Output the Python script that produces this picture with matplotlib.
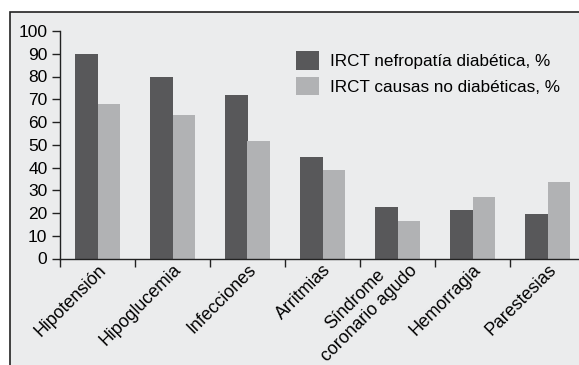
import matplotlib
matplotlib.use("Agg")
import matplotlib.pyplot as plt
import matplotlib.transforms as mtransforms
import numpy as np
from matplotlib.patches import Rectangle

categories = ["Hipotensión", "Hipoglucemia", "Infecciones", "Arritmias",
              "Síndrome\ncoronario agudo", "Hemorragia", "Parestesias"]
diabetic = [90, 80, 72, 44.5, 22.5, 21.5, 19.5]
non_diabetic = [68, 63, 51.5, 39, 16.5, 27, 33.5]
series_names = ["IRCT nefropatía diabética, %", "IRCT causas no diabéticas, %"]

dark = "#58585a"
light = "#b1b2b4"
bg = "#ebeced"

plt.rcParams["font.family"] = ["Liberation Sans", "DejaVu Sans"]

fig = plt.figure(figsize=(5.79, 3.65), dpi=100)
fig.patch.set_facecolor("white")

# outer panel frame
frame = Rectangle((10 / 579, -0.1), 1.1, (365 - 12) / 365 + 0.1,
                  transform=fig.transFigure, facecolor=bg, edgecolor="#222222",
                  linewidth=1.2, zorder=-10)
fig.patches.append(frame)

ax = fig.add_axes([60 / 579, (365 - 258.5) / 365, 525 / 579, (258.5 - 31) / 365])
ax.set_facecolor(bg)

x = np.arange(len(categories))
w = 0.305
ax.bar(x - w / 2, diabetic, w, color=dark, label=series_names[0])
ax.bar(x + w / 2, non_diabetic, w, color=light, label=series_names[1])

ax.set_xlim(-0.5, len(categories) - 0.5)
ax.set_ylim(0, 100)
ax.set_yticks(np.arange(0, 101, 10))
ax.tick_params(axis="y", labelsize=12.5, length=6, width=1, pad=3, color="#222222")

ax.set_xticks(np.arange(len(categories) + 1) - 0.5)
ax.set_xticklabels([])
ax.tick_params(axis="x", which="major", length=6, width=1, direction="out", color="#222222")
ax.set_xticks(x, minor=True)
labels = ax.set_xticklabels(categories, minor=True, rotation=45, ha="right", va="top",
                            rotation_mode="anchor", fontsize=12.8,
                            multialignment="center")
ax.tick_params(axis="x", which="minor", length=0, pad=2)

# two-line label sits higher in the original
for lab in labels:
    if "\n" in lab.get_text():
        shift = mtransforms.ScaledTranslation(-3 / 100, 13 / 100, fig.dpi_scale_trans)
        lab.set_transform(lab.get_transform() + shift)

for s in ["top", "right"]:
    ax.spines[s].set_visible(False)
for s in ["left", "bottom"]:
    ax.spines[s].set_color("#222222")
    ax.spines[s].set_linewidth(1)

ax.legend(loc="upper left", bbox_to_anchor=(0.4495, 0.912), frameon=False,
          fontsize=12.3, handlelength=1.35, handleheight=1.29, handletextpad=0.65,
          labelspacing=0.41, borderaxespad=0, borderpad=0)

fig.savefig("out.png", dpi=100)
